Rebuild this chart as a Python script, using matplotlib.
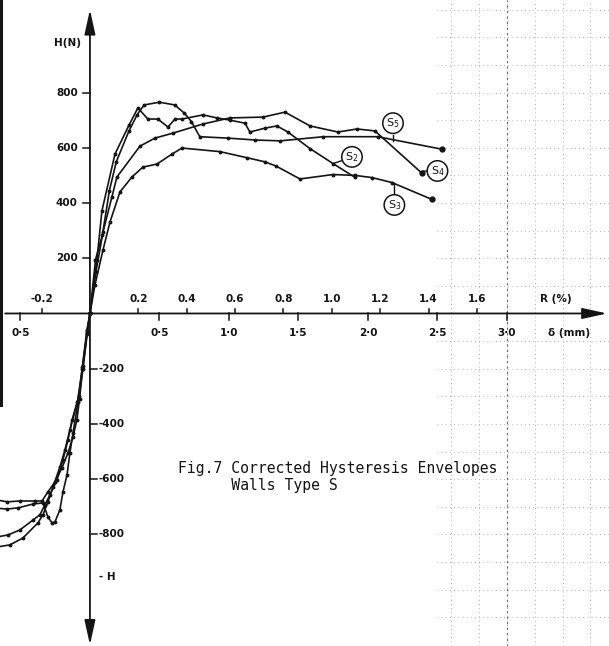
import numpy as np
import matplotlib.pyplot as plt

# envelope curves: displacement delta (mm) against load H (N)
s2_d = [0, 0.05, 0.086, 0.18, 0.281, 0.345, 0.417, 0.489, 0.561, 0.612, 0.662, 0.813,
        0.914, 1.007, 1.115, 1.151, 1.259, 1.345, 1.424, 1.583, 1.748, 1.906]
s2_h = [0, 194, 371, 577, 682, 744, 704, 704, 675, 704, 704, 719,
        708, 700, 689, 657, 671, 679, 657, 597, 543, 493]

s3_d = [0, 0.036, 0.094, 0.144, 0.216, 0.302, 0.381, 0.482, 0.590, 0.662, 0.935,
        1.129, 1.259, 1.338, 1.511, 1.748, 1.906, 2.029, 2.173, 2.460]
s3_h = [0, 103, 230, 331, 440, 494, 530, 541, 577, 599, 586,
        564, 549, 534, 487, 503, 500, 492, 474, 413]

s4_d = [0, 0.043, 0.094, 0.158, 0.194, 0.36, 0.468, 0.597, 0.813, 1.007, 1.245,
        1.403, 1.583, 1.784, 1.921, 2.050, 2.388]
s4_h = [0, 150, 295, 422, 494, 606, 635, 653, 686, 708, 711,
        729, 679, 657, 668, 661, 508]

s5_d = [0, 0.04, 0.09, 0.14, 0.19, 0.28, 0.34, 0.39, 0.50, 0.61, 0.68, 0.73,
        0.79, 0.99, 1.19, 1.37, 1.68, 2.07, 2.53]
s5_h = [0, 195, 285, 445, 550, 660, 720, 755, 765, 755, 725, 695,
        640, 635, 628, 625, 640, 640, 595]

# negative branches (unlabelled in the figure)
neg_a_d = [0, -0.02, -0.05, -0.075, -0.094, -0.122, -0.158, -0.201, -0.252, -0.302,
           -0.345, -0.396, -0.504, -0.597, -0.70]
neg_a_h = [0, -70, -190, -310, -385, -447, -505, -559, -610, -646,
           -679, -679, -679, -682, -672]
neg_b_d = [0, -0.022, -0.055, -0.085, -0.122, -0.144, -0.165, -0.194, -0.216, -0.252,
           -0.273, -0.302, -0.338, -0.410, -0.518, -0.597, -0.70]
neg_b_h = [0, -60, -195, -320, -433, -505, -585, -646, -711, -755,
           -758, -737, -686, -690, -704, -708, -704]
neg_c_d = [0, -0.02, -0.05, -0.08, -0.129, -0.158, -0.194, -0.237, -0.288, -0.324,
           -0.360, -0.410, -0.504, -0.590, -0.70]
neg_c_h = [0, -75, -200, -300, -386, -458, -530, -603, -657, -693,
           -729, -748, -784, -802, -812]
neg_d_d = [0, -0.02, -0.055, -0.09, -0.144, -0.180, -0.216, -0.266, -0.302, -0.338,
           -0.374, -0.482, -0.576, -0.70]
neg_d_h = [0, -65, -200, -320, -422, -494, -556, -628, -682, -729,
           -758, -813, -838, -848]

h_ticks_pos = [200, 400, 600, 800]
h_ticks_neg = [-200, -400, -600, -800]
d_ticks = [-0.5, 0.5, 1.0, 1.5, 2.0, 2.5, 3.0]
d_labels = ['0·5', '0·5', '1·0', '1·5', '2·0', '2·5', '3·0']
r_ticks = [-0.2, 0.2, 0.4, 0.6, 0.8, 1.0, 1.2, 1.4, 1.6]
r_labels = ['-0.2', '0.2', '0.4', '0.6', '0.8', '1.0', '1.2', '1.4', '1.6']
mm_per_pct = 1.74

ink = '#141414'
tick_font = dict(fontsize=7.5, fontweight='bold', color=ink, family='DejaVu Sans')

fig = plt.figure(figsize=(6.09, 6.46), dpi=100)
ax = fig.add_axes([0, 0, 1, 1])
xmin, xmax, ymin, ymax = -0.647, 3.734, -1204, 1135
ax.set_xlim(xmin, xmax)
ax.set_ylim(ymin, ymax)
ax.axis('off')

# graph paper showing faintly through the scan on the right
for gx in np.arange(2.6, 3.75, 0.2):
    ax.plot([gx, gx], [ymin, ymax], color='0.6', lw=0.6, ls=(0, (1, 4)), zorder=0)
for gy in np.arange(-1100, 1101, 100):
    if gy != 0:
        ax.plot([2.5, xmax], [gy, gy], color='0.62', lw=0.6, ls=(0, (1, 4)), zorder=0)
ax.plot([3.0, 3.0], [ymin, ymax], color='0.4', lw=0.8, ls=(0, (2, 3)), zorder=0)

# scan edge
ax.plot([-0.64, -0.64], [-330, ymax], color=ink, lw=2.2)

# axes with arrows
arr = dict(arrowstyle='-|>,head_length=1.0,head_width=0.22', color=ink, lw=1.3,
           shrinkA=0, shrinkB=0, mutation_scale=15)
ax.annotate('', xy=(0, 1100), xytext=(0, 0), arrowprops=arr)
ax.annotate('', xy=(0, -1200), xytext=(0, 0), arrowprops=arr)
ax.annotate('', xy=(3.72, 0), xytext=(-0.61, 0), arrowprops=arr)

for h in h_ticks_pos:
    ax.plot([-0.05, 0], [h, h], color=ink, lw=1.1)
    ax.text(-0.088, h, str(h), ha='right', va='center', **tick_font)
for h in h_ticks_neg:
    ax.plot([0, 0.05], [h, h], color=ink, lw=1.1)
    ax.text(0.062, h, str(h), ha='left', va='center', **tick_font)
ax.text(-0.158, 979, 'H(N)', ha='center', va='center', **tick_font)
ax.text(0.065, -954, '- H', ha='left', va='center', **tick_font)

for d, lab in zip(d_ticks, d_labels):
    ax.plot([d, d], [0, -25], color=ink, lw=1.1)
    ax.text(d, -72, lab, ha='center', va='center', **tick_font)
ax.text(3.45, -72, 'δ (mm)', ha='center', va='center', **tick_font)

for r, lab in zip(r_ticks, r_labels):
    ax.plot([r * mm_per_pct] * 2, [0, 18], color=ink, lw=1.1)
    ax.text(r * mm_per_pct, 52, lab, ha='center', va='center', **tick_font)
ax.text(3.35, 52, 'R (%)', ha='center', va='center', **tick_font)

# curves
for d, h in [(s2_d, s2_h), (s3_d, s3_h), (s4_d, s4_h), (s5_d, s5_h),
             (neg_a_d, neg_a_h), (neg_b_d, neg_b_h), (neg_c_d, neg_c_h), (neg_d_d, neg_d_h)]:
    ax.plot(d, h, color=ink, lw=1.2, marker='o', ms=1.8, zorder=3)
for d, h in [(s3_d, s3_h), (s4_d, s4_h), (s5_d, s5_h)]:
    ax.plot(d[-1], h[-1], 'o', color=ink, ms=3.5, zorder=4)

# series labels
labels = [('S$_5$', 2.18, 689, (2.18, 645), (2.18, 623)),
          ('S$_2$', 1.885, 567, (1.81, 553), (1.75, 543)),
          ('S$_4$', 2.50, 516, (2.43, 516), (2.39, 515)),
          ('S$_3$', 2.19, 393, (2.19, 435), (2.19, 472))]
for txt, x, y, p0, p1 in labels:
    ax.plot([p0[0], p1[0]], [p0[1], p1[1]], color=ink, lw=1.0)
    ax.text(x, y, txt, ha='center', va='center', fontsize=8, color=ink,
            bbox=dict(boxstyle='circle,pad=0.3', fc='white', ec=ink, lw=1.1), zorder=5)

ax.text(0.633, -534, 'Fig.7 Corrected Hysteresis Envelopes\n      Walls Type S',
        ha='left', va='top', fontsize=10.6, color=ink, linespacing=1.15,
        family=['DejaVu Sans Mono'])

fig.savefig('out.png', dpi=100)
